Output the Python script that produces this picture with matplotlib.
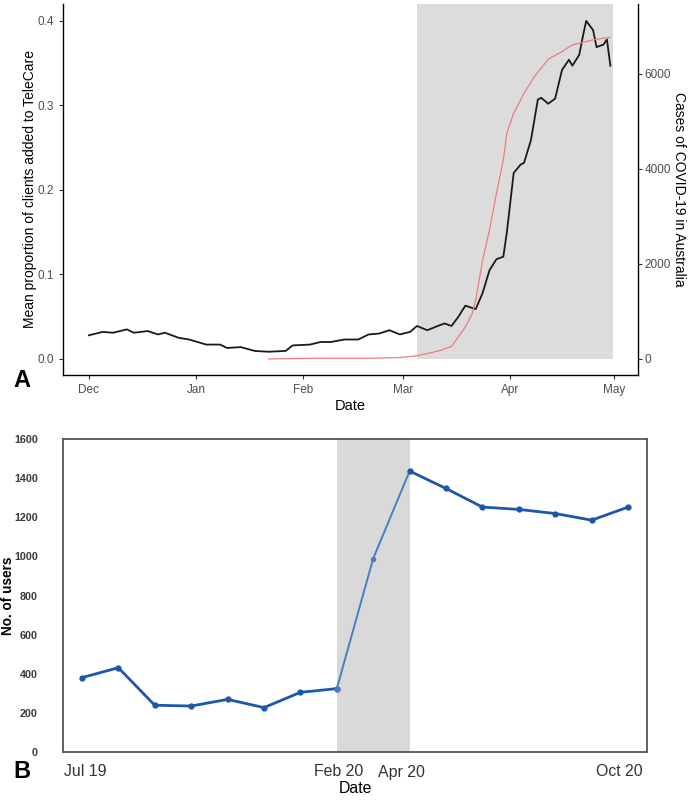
import matplotlib
matplotlib.use("Agg")
import matplotlib.pyplot as plt
import matplotlib.transforms as mtransforms
from matplotlib import font_manager
import pandas as pd
import numpy as np

plt.rcParams['font.family'] = ['Liberation Sans', 'DejaVu Sans']
_names = {f.name for f in font_manager.fontManager.ttflist}
NARROW = ['Liberation Sans Narrow', 'Liberation Sans'] if 'Liberation Sans Narrow' in _names else ['Liberation Sans']
NARROW_SCALE = 1.0 if 'Liberation Sans Narrow' in _names else 0.82

# ---------------- Panel A data ----------------
telecare_dates = ["2019-12-01", "2019-12-05", "2019-12-08", "2019-12-12", "2019-12-14", "2019-12-18",
                  "2019-12-21", "2019-12-23", "2019-12-27", "2019-12-30", "2020-01-04", "2020-01-08",
                  "2020-01-10", "2020-01-14", "2020-01-18", "2020-01-22", "2020-01-27", "2020-01-29",
                  "2020-02-03", "2020-02-06", "2020-02-09", "2020-02-13", "2020-02-17", "2020-02-20",
                  "2020-02-23", "2020-02-26", "2020-02-29", "2020-03-03", "2020-03-05", "2020-03-08",
                  "2020-03-11", "2020-03-13", "2020-03-15", "2020-03-17", "2020-03-19", "2020-03-22",
                  "2020-03-24", "2020-03-26", "2020-03-28", "2020-03-30", "2020-03-31", "2020-04-02",
                  "2020-04-04", "2020-04-05", "2020-04-07", "2020-04-09", "2020-04-10", "2020-04-12",
                  "2020-04-14", "2020-04-16", "2020-04-18", "2020-04-19", "2020-04-21", "2020-04-22",
                  "2020-04-23", "2020-04-25", "2020-04-26", "2020-04-28", "2020-04-29", "2020-04-30"]
telecare_prop = [0.028, 0.032, 0.031, 0.035, 0.031, 0.033,
                 0.029, 0.031, 0.025, 0.023, 0.017, 0.017,
                 0.013, 0.014, 0.0095, 0.0085, 0.0095, 0.016,
                 0.017, 0.020, 0.020, 0.023, 0.023, 0.029,
                 0.030, 0.034, 0.029, 0.032, 0.039, 0.034,
                 0.039, 0.042, 0.039, 0.050, 0.063, 0.059,
                 0.078, 0.105, 0.118, 0.121, 0.149, 0.220,
                 0.230, 0.232, 0.259, 0.307, 0.309, 0.302,
                 0.308, 0.342, 0.354, 0.347, 0.360, 0.381,
                 0.400, 0.389, 0.369, 0.372, 0.378, 0.347]

covid_dates = ["2020-01-22", "2020-01-26", "2020-02-01", "2020-02-10", "2020-02-20", "2020-02-26",
               "2020-02-29", "2020-03-03", "2020-03-05", "2020-03-08", "2020-03-12", "2020-03-15",
               "2020-03-17", "2020-03-19", "2020-03-21", "2020-03-22", "2020-03-23", "2020-03-24",
               "2020-03-26", "2020-03-28", "2020-03-30", "2020-03-31", "2020-04-02", "2020-04-05",
               "2020-04-08", "2020-04-12", "2020-04-16", "2020-04-19", "2020-04-25", "2020-04-30"]
covid_cases = [0, 4, 12, 15, 15, 23,
               30, 50, 70, 112, 183, 267,
               464, 675, 955, 1237, 1658, 2080,
               2712, 3485, 4187, 4750, 5171, 5593,
               5944, 6309, 6471, 6611, 6717, 6773]

shade_a = ["2020-03-05", "2020-04-30"]
month_ticks_a = ["2019-12-01", "2020-01-01", "2020-02-01", "2020-03-01", "2020-04-01", "2020-05-01"]
month_labels_a = ["Dec", "Jan", "Feb", "Mar", "Apr", "May"]
yticks_a = [0.0, 0.1, 0.2, 0.3, 0.4]
yticks_a2 = [0, 2000, 4000, 6000]

# ---------------- Panel B data ----------------
months_b = ["Jul 19", "Aug 19", "Sep 19", "Oct 19", "Nov 19", "Dec 19", "Jan 20", "Feb 20",
            "Mar 20", "Apr 20", "May 20", "Jun 20", "Jul 20", "Aug 20", "Sep 20", "Oct 20"]
users_b = [380, 431, 239, 235, 269, 227, 305, 324,
           989, 1436, 1347, 1252, 1240, 1219, 1185, 1252]
xtick_labels_b = ["Jul 19", "Feb 20", "Apr 20", "Oct 20"]
yticks_b = [0, 200, 400, 600, 800, 1000, 1200, 1400, 1600]
shade_b = ["Feb 20", "Apr 20"]

# ---------------- Figure ----------------
W, H = 690, 800
fig = plt.figure(figsize=(W / 100, H / 100), dpi=100)

def box(l, t, r, b):
    return [l / W, 1 - b / H, (r - l) / W, (b - t) / H]

# Panel A
ax = fig.add_axes(box(63, 4, 638, 375))
td = pd.to_datetime(telecare_dates)
cd = pd.to_datetime(covid_dates)
ylo, yhi = -0.019, 0.42
scale = 6000 / 285 * 845
ax.set_ylim(ylo, yhi)
ax.set_xlim(pd.Timestamp("2019-11-23 12:00"), pd.Timestamp("2020-05-08"))
s0, s1 = pd.to_datetime(shade_a)
ax.fill_between([s0, s1 + pd.Timedelta(hours=16)], 0, yhi, color="#DCDCDC", lw=0, zorder=0)
ax.plot(td, telecare_prop, color="#1a1a1a", lw=1.3, zorder=3)

ax2 = ax.twinx()
ax2.set_ylim(ylo * scale, yhi * scale)
ax2.plot(cd, covid_cases, color="#F07C7C", lw=0.9, zorder=2)
ax2.set_yticks(yticks_a2)
ax2.set_yticklabels([str(v) for v in yticks_a2])

ax.set_yticks(yticks_a)
ax.set_yticklabels(["0.0", "0.1", "0.2", "0.3", "0.4"])
ax.set_xticks(pd.to_datetime(month_ticks_a))
ax.set_xticklabels(month_labels_a)

for a in (ax, ax2):
    a.spines['top'].set_visible(False)
    for s in ('left', 'bottom', 'right'):
        a.spines[s].set_linewidth(1.0)
        a.spines[s].set_color("black")
    a.tick_params(axis='both', labelsize=8.5, labelcolor="#4D4D4D", color="#333333", length=3, width=0.8)
ax2.tick_params(axis='y', pad=1.5)
ax.spines['right'].set_visible(False)
ax2.spines['left'].set_visible(False)
ax2.spines['bottom'].set_visible(False)

ax.set_ylabel("Mean proportion of clients added to TeleCare", fontsize=10)
ax.yaxis.set_label_coords((37 - 63) / 575, 0.5)
ax2.set_ylabel("Cases of COVID-19 in Australia", fontsize=10, rotation=270, va="center")
ax2.yaxis.set_label_coords((679 - 63) / 575, 0.5)
ax.set_xlabel("Date", fontsize=10.5, labelpad=2)
fig.text(13 / W, 1 - 392 / H, "A", fontsize=17, fontweight="bold", ha="left", va="bottom")

# Panel B
bx = fig.add_axes(box(63, 439, 647, 752))
xb = np.arange(len(months_b))
i0, i1 = months_b.index(shade_b[0]), months_b.index(shade_b[1])
bx.axvspan(xb[i0], xb[i1], color="#D9D9D9", lw=0, zorder=0)
dark = "#1B57AA"
light = "#4A7EC2"
bx.plot(xb[:i0 + 1], users_b[:i0 + 1], color=dark, lw=2.0, marker="o", ms=3.5, zorder=3)
bx.plot(xb[i0:i1 + 1], users_b[i0:i1 + 1], color=light, lw=1.4, marker="o", ms=3.0, zorder=3)
bx.plot(xb[i1:], users_b[i1:], color=dark, lw=2.0, marker="o", ms=3.5, zorder=3)
bx.set_xlim(-0.52, len(months_b) - 1 + 0.52)
bx.set_ylim(0, 1600)
bx.set_yticks(yticks_b)
bx.set_yticklabels([str(v) for v in yticks_b], fontweight="bold", fontsize=9.5 * NARROW_SCALE,
                   color="#3A3A3A", family=NARROW)
bx.set_xticks([months_b.index(m) for m in xtick_labels_b])
bx.set_xticklabels(xtick_labels_b, fontsize=14 * NARROW_SCALE, color="#333333", family=NARROW)
bx.tick_params(axis='y', length=0, pad=18)
bx.tick_params(axis='x', length=0, pad=9)
label_shift_px = [3, 2, -8, -9]
for lab, dx in zip(bx.get_xticklabels(), label_shift_px):
    lab.set_transform(lab.get_transform() + mtransforms.ScaledTranslation(dx / 100, 0, fig.dpi_scale_trans))
for s in bx.spines.values():
    s.set_color("#555555")
    s.set_linewidth(1.3)
bx.set_ylabel("No. of users", fontsize=12 * NARROW_SCALE, fontweight="bold", family=NARROW)
bx.yaxis.set_label_coords((15 - 63) / 584, 0.5)
bx.set_xlabel("Date", fontsize=14 * NARROW_SCALE, family=NARROW, labelpad=1)
fig.text(13 / W, 1 - 783 / H, "B", fontsize=17, fontweight="bold", ha="left", va="bottom")

fig.savefig("out.png", dpi=100)
